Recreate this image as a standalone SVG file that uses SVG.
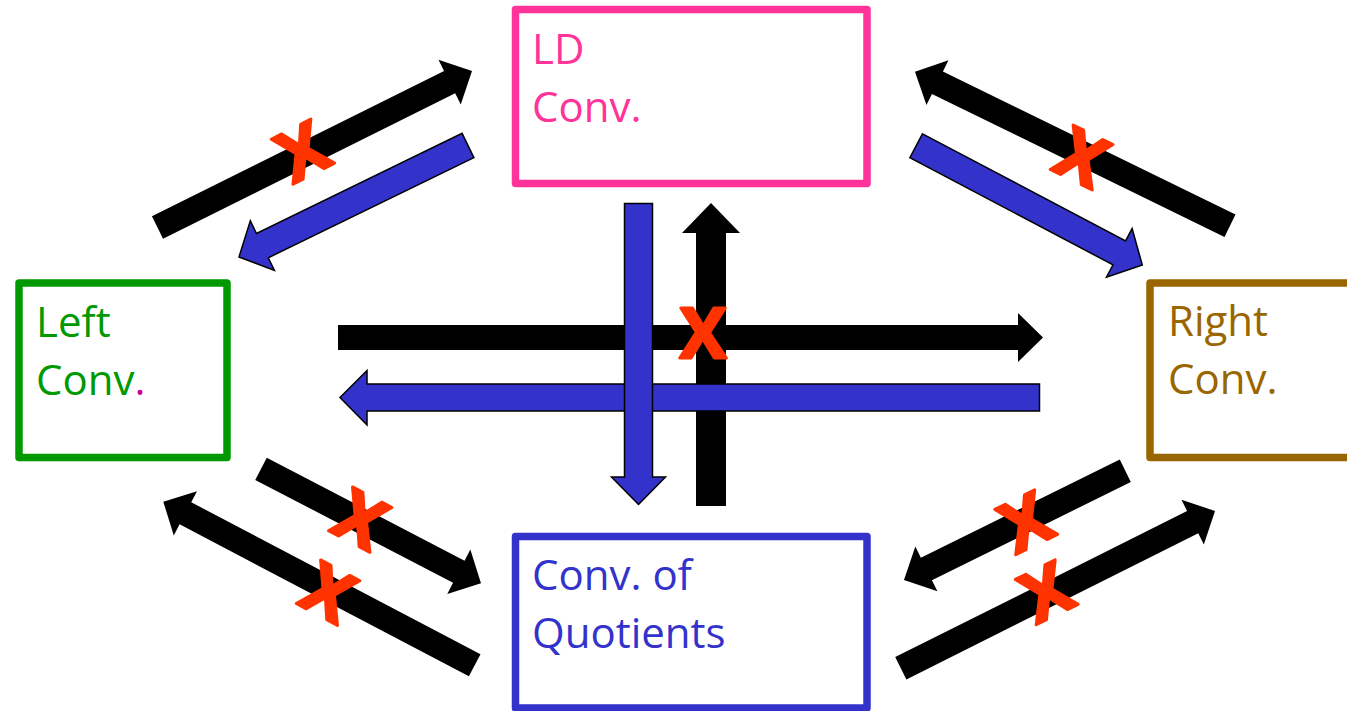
<svg xmlns="http://www.w3.org/2000/svg" width="1347" height="711" viewBox="0 0 1347 711">
<style>
.box{fill:#fff;stroke-width:7.5;stroke-linejoin:round}
.lbl{font-family:"Open Sans","Noto Sans","Liberation Sans",sans-serif;font-size:42px}
.blk{fill:#000}
.blu{fill:#3333CC;stroke:#000;stroke-width:1.5;stroke-linejoin:miter}
.x{font-family:"Open Sans","Noto Sans","Liberation Sans",sans-serif;font-weight:bold;font-size:70px;fill:#FF3300;stroke:#FF3300;stroke-width:3;stroke-linejoin:round;text-anchor:middle}
</style>
<rect width="1347" height="711" fill="#fff"/>

<g id="node-ld">
<rect class="box" x="515.5" y="9.5" width="351.5" height="174" stroke="#FF3399"/>
<text class="lbl" fill="#FF3399" x="532" y="64">LD</text>
<text class="lbl" fill="#FF3399" x="532" y="122">Conv.</text>
</g>
<g id="node-left">
<rect class="box" x="19" y="283" width="208" height="174.5" stroke="#009900"/>
<text class="lbl" fill="#009900" x="36" y="337">Left</text>
<text class="lbl" fill="#009900" x="36" y="395">Conv<tspan fill="#CC0099">.</tspan></text>
</g>
<g id="node-right">
<rect class="box" x="1150" y="283" width="230" height="174.5" stroke="#996600"/>
<text class="lbl" fill="#996600" x="1168" y="336">Right</text>
<text class="lbl" fill="#996600" x="1168" y="394">Conv.</text>
</g>
<g id="node-quot">
<rect class="box" x="515.5" y="536.5" width="351.5" height="171.5" stroke="#3333CC"/>
<text class="lbl" fill="#3333CC" x="532" y="590">Conv. of</text>
<text class="lbl" fill="#3333CC" x="532" y="648">Quotients</text>
</g>

<g id="connectors">
<path class="blk" transform="translate(157.5,227.5) rotate(-26.46)" d="M0,-12.5 H326.3 V-25 L351.3,0 L326.3,25 V12.5 H0 Z"/>
<path class="blu" transform="translate(468,145.5) rotate(154.04)" d="M0,-13.5 H228.7 V-27.5 L254.7,0 L228.7,27.5 V13.5 H0 Z"/>
<path class="blk" transform="translate(1230,225.8) rotate(-153.93)" d="M0,-12.5 H325.7 V-25 L350.7,0 L325.7,25 V12.5 H0 Z"/>
<path class="blu" transform="translate(916.2,145.8) rotate(27.8)" d="M0,-13.5 H229.6 V-27.5 L255.6,0 L229.6,27.5 V13.5 H0 Z"/>
<path class="blk" transform="translate(261,468.8) rotate(27.5)" d="M0,-12.5 H223 V-25 L248,0 L223,25 V12.5 H0 Z"/>
<path class="blk" transform="translate(474.7,665.3) rotate(-152.28)" d="M0,-12.5 H326.8 V-25 L351.8,0 L326.8,25 V12.5 H0 Z"/>
<path class="blk" transform="translate(1125.3,470.8) rotate(153.74)" d="M0,-12.5 H221.8 V-25 L246.8,0 L221.8,25 V12.5 H0 Z"/>
<path class="blk" transform="translate(900.8,668.3) rotate(-26.6)" d="M0,-12.5 H326.4 V-25 L351.4,0 L326.4,25 V12.5 H0 Z"/>
<path class="blk" d="M696,506 V233 H682 L711,203 L740,233 H726 V506 Z"/>
<path class="blk" d="M338,325 H1018 V313 L1043,337.5 L1018,362 V350 H338 Z"/>
<path class="blu" d="M1039.5,384 H367 V370.5 L340,397.5 L367,425 V411 H1039.5 Z"/>
<path class="blu" d="M624.5,203.5 H652.5 V477 H665.5 L638.5,504.5 L611.5,477 H624.5 Z"/>
</g>

<g id="marks">
<text class="x" x="0" y="25" transform="translate(302.5,151.5) rotate(-27)">X</text>
<text class="x" x="0" y="25" transform="translate(1082.2,157.2) rotate(26)">X</text>
<text class="x" x="0" y="25" transform="translate(360.8,519.3) rotate(27.5)">X</text>
<text class="x" x="0" y="25" transform="translate(328.5,592.3) rotate(28)">X</text>
<text class="x" x="0" y="25" transform="translate(1025.8,522) rotate(-26)">X</text>
<text class="x" x="0" y="25" transform="translate(1046.2,592) rotate(-26)">X</text>
<text class="x" x="703" y="358">X</text>
</g>
</svg>
